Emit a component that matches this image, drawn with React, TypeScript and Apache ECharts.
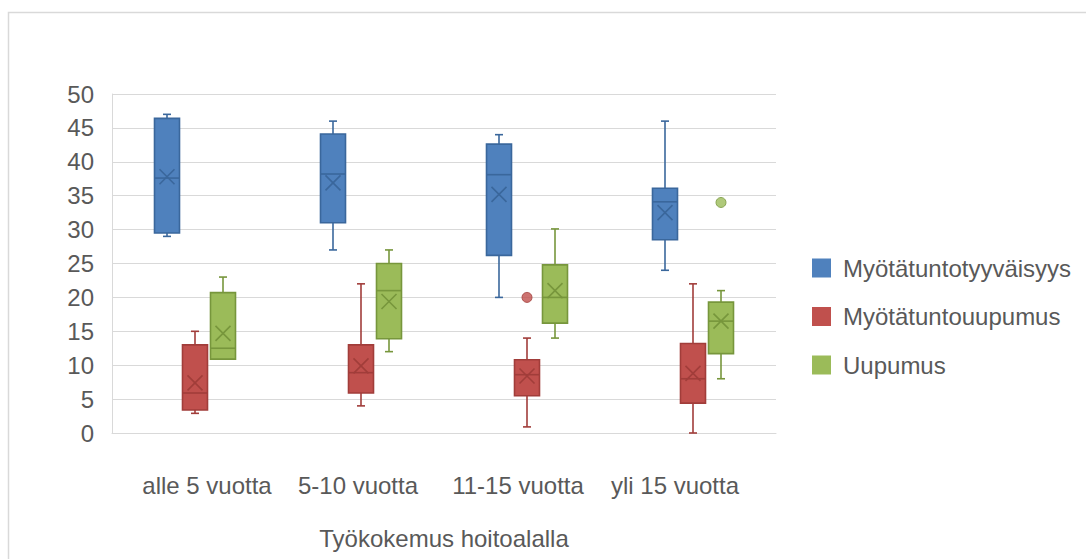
import React, { useEffect, useRef } from "react";
import * as echarts from "echarts";

// Categories: work experience in nursing
const categories = ["alle 5 vuotta", "5-10 vuotta", "11-15 vuotta", "yli 15 vuotta"];

// Box statistics per category: [min, q1, median, q3, max, mean]
const tyytyvaisyys = [
  [29.0, 29.5, 37.6, 46.4, 47.0, 37.8],
  [27.0, 31.0, 38.2, 44.1, 46.0, 36.9],
  [20.0, 26.2, 38.1, 42.6, 44.0, 35.2],
  [24.0, 28.5, 34.1, 36.1, 46.0, 32.5],
];
const uupumusMyot = [
  [2.9, 3.4, 5.9, 13.0, 15.0, 7.4],
  [4.0, 5.9, 8.9, 13.0, 22.0, 9.9],
  [0.9, 5.5, 8.6, 10.8, 14.0, 8.4],
  [0.0, 4.4, 8.0, 13.2, 22.0, 8.8],
];
const uupumus = [
  [10.9, 10.9, 12.5, 20.7, 23.0, 14.7],
  [12.0, 13.9, 21.0, 25.0, 27.0, 19.4],
  [14.0, 16.2, 20.0, 24.8, 30.1, 21.0],
  [8.0, 11.7, 16.5, 19.3, 21.0, 16.5],
];

// Outliers: [category index, value]
const uupumusMyotOutliers = [[2, 20]];
const uupumusOutliers = [[3, 34]];

const yTicks = { min: 0, max: 50, interval: 5 };

const TEXT = "#595959";
const GRID = "#d9d9d9";
const FONT = "Liberation Sans, Arial, sans-serif";
const FS = 24;

type Style = { name: string; fill: string; stroke: string; offset: number };
const styles: Style[] = [
  { name: "Myötätuntotyyväisyys", fill: "#4F81BD", stroke: "#3A679C", offset: -28 },
  { name: "Myötätuntouupumus", fill: "#C0504D", stroke: "#A13D3A", offset: 0 },
  { name: "Uupumus", fill: "#9BBB59", stroke: "#77963C", offset: 28 },
];

// Horizontal nudge of each category label (left/right padding)
const labelPad = [
  [0, 0, 0, 24],
  [0, 6, 0, 0],
  [0, 18, 0, 0],
  [0, 36, 0, 0],
];

function boxRenderer(s: Style) {
  return (_params: any, api: any) => {
    const cat = api.value(0);
    const y = (i: number) => api.coord([cat, api.value(i)])[1];
    const cx = api.coord([cat, api.value(3)])[0] + s.offset;
    const yMin = y(1), yQ1 = y(2), yMed = y(3), yQ3 = y(4), yMax = y(5), yMean = y(6);
    const hw = 12.5, cap = 4, xs = 7.5;
    const line = { stroke: s.stroke, lineWidth: 1.6 };
    const children: any[] = [];
    if (yMax < yQ3) {
      children.push({ type: "line", shape: { x1: cx, y1: yMax, x2: cx, y2: yQ3 }, style: line });
      children.push({ type: "line", shape: { x1: cx - cap, y1: yMax, x2: cx + cap, y2: yMax }, style: line });
    }
    if (yMin > yQ1) {
      children.push({ type: "line", shape: { x1: cx, y1: yQ1, x2: cx, y2: yMin }, style: line });
      children.push({ type: "line", shape: { x1: cx - cap, y1: yMin, x2: cx + cap, y2: yMin }, style: line });
    }
    children.push({
      type: "rect",
      shape: { x: cx - hw, y: yQ3, width: hw * 2, height: yQ1 - yQ3 },
      style: { fill: s.fill, stroke: s.stroke, lineWidth: 1.6 },
    });
    children.push({ type: "line", shape: { x1: cx - hw, y1: yMed, x2: cx + hw, y2: yMed }, style: line });
    children.push({ type: "line", shape: { x1: cx - xs, y1: yMean - xs, x2: cx + xs, y2: yMean + xs }, style: line });
    children.push({ type: "line", shape: { x1: cx - xs, y1: yMean + xs, x2: cx + xs, y2: yMean - xs }, style: line });
    return { type: "group", children };
  };
}

const boxData = (rows: number[][]) => rows.map((r, i) => [i, ...r]);

export default function App() {
  const ref = useRef<HTMLDivElement>(null);

  useEffect(() => {
    if (!ref.current) return;
    const chart = echarts.init(ref.current, undefined, { renderer: "svg" });
    const sets = [tyytyvaisyys, uupumusMyot, uupumus];
    const outliers = [[], uupumusMyotOutliers, uupumusOutliers];

    const series: any[] = [];
    styles.forEach((s, k) => {
      series.push({
        type: "custom",
        name: s.name,
        renderItem: boxRenderer(s),
        itemStyle: { color: s.fill },
        encode: { x: 0, y: [1, 2, 3, 4, 5, 6] },
        data: boxData(sets[k]),
      });
      if (outliers[k].length) {
        series.push({
          type: "scatter",
          name: s.name,
          symbol: "circle",
          symbolSize: 10,
          symbolOffset: [s.offset, 0],
          itemStyle: { color: s.fill, borderColor: s.stroke, borderWidth: 1 },
          data: outliers[k],
        });
      }
    });

    const rich: Record<string, any> = {};
    labelPad.forEach((p, i) => {
      rich["c" + i] = { color: TEXT, fontSize: FS, fontFamily: FONT, padding: p };
    });

    chart.setOption({
      animation: false,
      textStyle: { fontFamily: FONT },
      graphic: [
        {
          type: "rect",
          silent: true,
          shape: { x: 8.5, y: 12.5, width: 1200, height: 700 },
          style: { fill: "none", stroke: GRID, lineWidth: 1.5 },
        },
      ],
      grid: { left: 112, right: 310, top: 94, bottom: 126 },
      legend: {
        orient: "vertical",
        left: 807,
        top: 251,
        itemWidth: 19,
        itemHeight: 19,
        itemGap: 24.5,
        icon: "rect",
        data: styles.map((s) => s.name),
        textStyle: { color: TEXT, fontSize: FS, fontFamily: FONT, padding: [0, 0, 0, 7] },
        itemStyle: { borderWidth: 1 },
      },
      xAxis: {
        type: "category",
        data: categories,
        name: "Työkokemus hoitoalalla",
        nameLocation: "middle",
        nameGap: 93,
        nameTextStyle: { color: TEXT, fontSize: FS, fontFamily: FONT },
        axisLine: { show: true, lineStyle: { color: GRID, width: 1 } },
        axisTick: { show: false },
        axisLabel: {
          color: TEXT,
          fontSize: FS,
          fontFamily: FONT,
          margin: 40,
          interval: 0,
          hideOverlap: false,
          formatter: (v: string, i: number) => `{c${i}|${v}}`,
          rich,
        },
        splitLine: { show: false },
      },
      yAxis: {
        type: "value",
        min: yTicks.min,
        max: yTicks.max,
        interval: yTicks.interval,
        axisLine: { show: true, lineStyle: { color: GRID, width: 1 } },
        axisTick: { show: false },
        axisLabel: { color: TEXT, fontSize: FS, fontFamily: FONT, margin: 18 },
        splitLine: { lineStyle: { color: GRID, width: 1 } },
      },
      series,
    });
    return () => chart.dispose();
  }, []);

  return (
    <div
      ref={ref}
      style={{ position: "fixed", left: 0, top: 0, width: 1086, height: 559, background: "#fff" }}
    />
  );
}
